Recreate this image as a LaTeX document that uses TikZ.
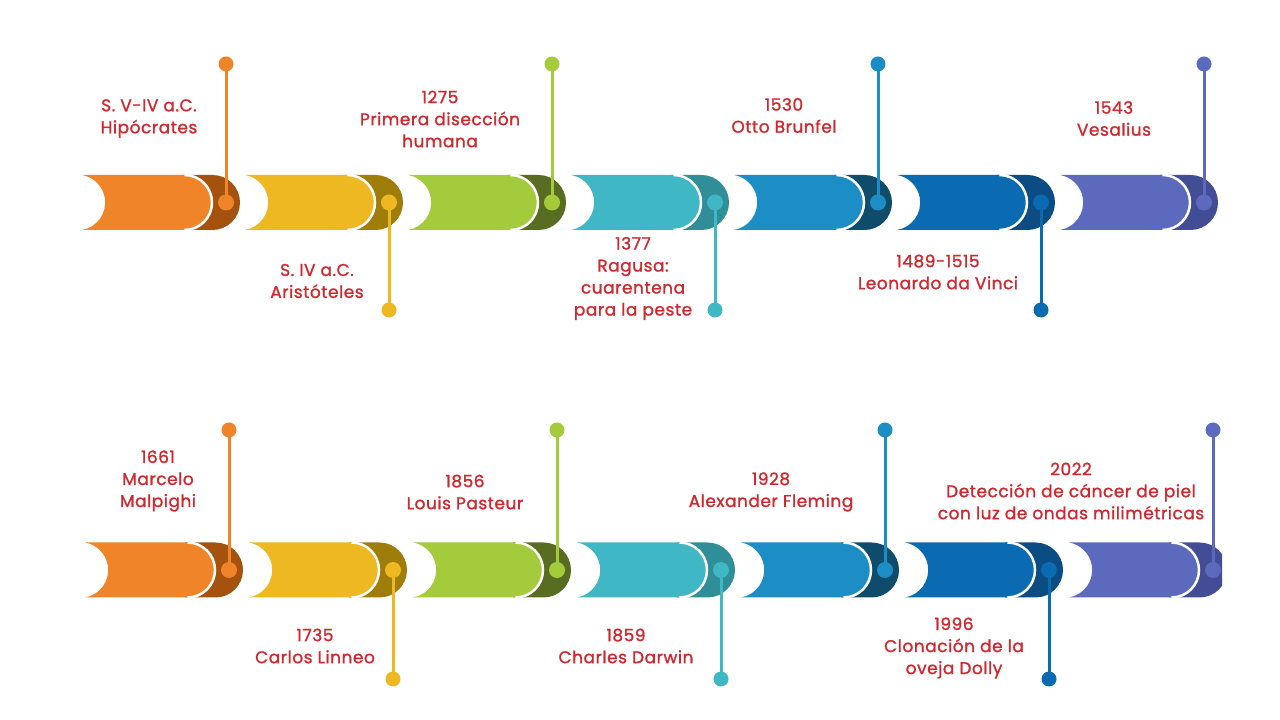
\documentclass[tikz,border=0pt]{standalone}
\usepackage{fontspec}
\setmainfont{Poppins}
\newfontfamily\labfont[FakeBold=1.2,LetterSpace=3]{Poppins}
\definecolor{labred}{HTML}{D0282E}
\definecolor{c0}{HTML}{F08429}\definecolor{k0}{HTML}{A5520F}
\definecolor{c1}{HTML}{EEB822}\definecolor{k1}{HTML}{9F7D0B}
\definecolor{c2}{HTML}{A3CB3B}\definecolor{k2}{HTML}{586D21}
\definecolor{c3}{HTML}{40B7C4}\definecolor{k3}{HTML}{2F8E97}
\definecolor{c4}{HTML}{1D8DC5}\definecolor{k4}{HTML}{0F4B6B}
\definecolor{c5}{HTML}{0A6BB3}\definecolor{k5}{HTML}{0B4C83}
\definecolor{c6}{HTML}{5C6ABD}\definecolor{k6}{HTML}{434D95}
\newcommand\tlseg[4]{%
 \fill[#4] (#1+100,#2+27.5) -- (#1+130.5,#2+27.5) arc[start angle=90,end angle=-90,radius=27.5] -- (#1+100,#2-27.5) -- cycle;
 \fill[#3] (#1,#2+27.5) -- (#1+102.5,#2+27.5) arc[start angle=90,end angle=-90,radius=27.5] -- (#1,#2-27.5) arc[start angle=-80.3,end angle=80.3,radius=27.9] -- cycle;
 \draw[white,line width=2.5pt] (#1+102.5,#2+27.5) arc[start angle=90,end angle=-90,radius=27.5];
}
\tikzset{
 lab/.style={text=labred, align=center, font=\labfont\fontsize{17}{22}\selectfont, inner sep=0pt},
 dotbig/.style={circle, inner sep=0pt, minimum size=16pt},
 dotend/.style={circle, inner sep=0pt, minimum size=15pt},
 conn/.style={line width=3pt},
}
\begin{document}
\begin{tikzpicture}[x=1pt,y=1pt]
\useasboundingbox (0,0) rectangle (1280,720);
\fill[white] (0,0) rectangle (1280,720);
% row 1
\foreach \i in {0,...,6}{
  \pgfmathsetmacro\xo{82+163*\i}
  \tlseg{\xo}{517.5}{c\i}{k\i}
}
% row 2
\begin{scope}
\clip (0,0) rectangle (1222,720);
\foreach \i in {0,...,6}{
  \pgfmathsetmacro\xo{85+164*\i}
  \tlseg{\xo}{150}{c\i}{k\i}
}
\end{scope}
% connectors row 1
\foreach \i in {0,...,6}{
  \pgfmathsetmacro\xd{82+163*\i+144}
  \pgfmathsetmacro\ye{isodd(\i) ? 410 : 656}
  \node[dotbig, fill=c\i] (a\i) at (\xd,517.5) {};
  \node[dotend, fill=c\i] (b\i) at (\xd,\ye) {};
  \draw[conn, c\i] (a\i.center) -- (b\i.center);
}
% connectors row 2
\foreach \i in {0,...,6}{
  \pgfmathsetmacro\xd{85+164*\i+144}
  \pgfmathsetmacro\ye{isodd(\i) ? 41 : 290}
  \node[dotbig, fill=c\i] (p\i) at (\xd,150) {};
  \node[dotend, fill=c\i] (q\i) at (\xd,\ye) {};
  \draw[conn, c\i] (p\i.center) -- (q\i.center);
}
% labels row 1
\node[lab] (l1) at (149,601.5) {S. V-IV a.C.\\Hipócrates};
\node[lab] (l2) at (317,439) {S. IV a.C.\\Aristóteles};
\node[lab] (l3) at (440,601) {1275\\Primera disección\\humana};
\node[lab] (l4) at (633,441.5) {1377\\Ragusa:\\cuarentena\\para la peste};
\node[lab] (l5) at (784,604.5) {1530\\Otto Brunfel};
\node[lab] (l6) at (938,448) {1489-1515\\Leonardo da Vinci};
\node[lab] (l7) at (1114,601.5) {1543\\Vesalius};
% labels row 2
\node[lab] (m1) at (158,239) {1661\\Marcelo\\Malpighi};
\node[lab] (m2) at (315,74) {1735\\Carlos Linneo};
\node[lab] (m3) at (465,228) {1856\\Louis Pasteur};
\node[lab] (m4) at (626,74) {1859\\Charles Darwin};
\node[lab] (m5) at (771,228) {1928\\Alexander Fleming};
\node[lab] (m6) at (1071,229) {2022\\Detección de cáncer de piel\\con luz de ondas milimétricas};
\node[lab] (m7) at (954,72) {1996\\Clonación de la\\oveja Dolly};
\end{tikzpicture}
\end{document}
